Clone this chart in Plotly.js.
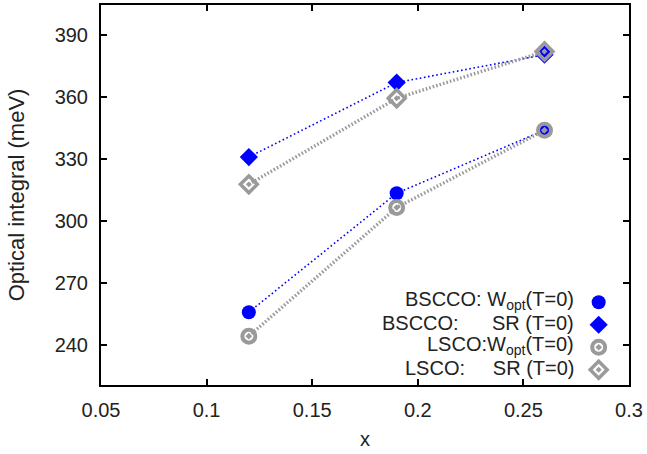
<!DOCTYPE html>
<html>
<head>
<meta charset="utf-8">
<script src="https://cdn.plot.ly/plotly-3.0.1.min.js"></script>
<style>html,body{margin:0;padding:0;background:#fff;}#chart{width:647px;height:454px;}</style>
</head>
<body>
<div id="chart"></div>
<script>
// Data
const xDoping = [0.12, 0.19, 0.26];
const bsccoWopt = [256, 313.5, 344];
const bsccoSR = [331, 367, 380.5];
const lscoWopt = [244.4, 306.6, 344];
const lscoSR = [317.8, 359.4, 382];
const seriesNames = [
  "BSCCO: W<sub>opt</sub>(T=0)",
  "BSCCO:\u00a0\u00a0\u00a0\u00a0\u00a0\u00a0SR (T=0)",
  "LSCO:W<sub>opt</sub>(T=0)",
  "LSCO:\u00a0\u00a0\u00a0\u00a0\u00a0SR (T=0)"
];
const xTickVals = [0.05, 0.1, 0.15, 0.2, 0.25, 0.3];
const yTickVals = [240, 270, 300, 330, 360, 390];

const blue = "#0000ff";
const grey = "#9a9a9a";
const FONT = "'Liberation Sans', Arial, Helvetica, sans-serif";
const TXT = "#222";

const ys = [bsccoWopt, bsccoSR, lscoWopt, lscoSR];
const lineStyles = [
  {color: blue, width: 1.6, dash: "1.6px,2.6px"},
  {color: blue, width: 1.6, dash: "1.6px,2.6px"},
  {color: grey, width: 3.4, dash: "1.6px,2px"},
  {color: grey, width: 3.4, dash: "1.6px,2px"}
];
const markerStyles = [
  {symbol: "circle", size: 14, color: blue, line: {width: 0}},
  {symbol: "diamond", size: 14, color: blue, line: {width: 0}},
  {symbol: "circle-open-dot", size: 13, color: grey, line: {width: 4, color: grey}},
  {symbol: "diamond-open-dot", size: 13, color: grey, line: {width: 3.5, color: grey}}
];

const traces = [];
for (let i = 0; i < 4; i++) {
  traces.push({
    x: xDoping, y: ys[i], type: "scatter", mode: "lines",
    line: lineStyles[i], showlegend: false, hoverinfo: "skip"
  });
  traces.push({
    x: xDoping, y: ys[i], type: "scatter", mode: "markers",
    marker: markerStyles[i], name: "\u00a0", showlegend: true
  });
}

// legend text as right-aligned annotations (symbols come from the legend)
const rowY = [0.222, 0.163, 0.105, 0.045];
const annotations = seriesNames.map((t, i) => ({
  text: t, xref: "paper", yref: "paper", x: 0.8996, y: rowY[i],
  xanchor: "right", yanchor: "middle", showarrow: false, align: "right",
  font: {family: FONT, size: 20, color: TXT}
}));

const axisCommon = {
  showline: true, linecolor: "#000", linewidth: 2, mirror: "ticks",
  ticks: "inside", ticklen: 6, tickwidth: 2, tickcolor: "#000",
  showgrid: false, zeroline: false,
  tickfont: {family: FONT, size: 20, color: TXT}
};

const layout = {
  width: 647, height: 454,
  margin: {l: 101, r: 18, t: 5, b: 69},
  paper_bgcolor: "#fff", plot_bgcolor: "#fff",
  showlegend: true,
  legend: {
    x: 0.9047, y: 0.2605, xanchor: "left", yanchor: "top",
    bgcolor: "rgba(0,0,0,0)", borderwidth: 0,
    font: {family: FONT, size: 15}, itemwidth: 30, tracegroupgap: 0
  },
  xaxis: Object.assign({}, axisCommon, {
    range: [0.05, 0.3], tickvals: xTickVals, ticklabelstandoff: 6,
    title: {text: "x", font: {family: FONT, size: 20, color: TXT}, standoff: 12}
  }),
  yaxis: Object.assign({}, axisCommon, {
    range: [220.8, 404.5], tickvals: yTickVals, ticklabelstandoff: 7,
    title: {text: "Optical integral (meV)", font: {family: FONT, size: 22, color: TXT}, standoff: 24}
  }),
  annotations: annotations
};

Plotly.newPlot("chart", traces, layout, {displayModeBar: false, staticPlot: true});
</script>
</body>
</html>
